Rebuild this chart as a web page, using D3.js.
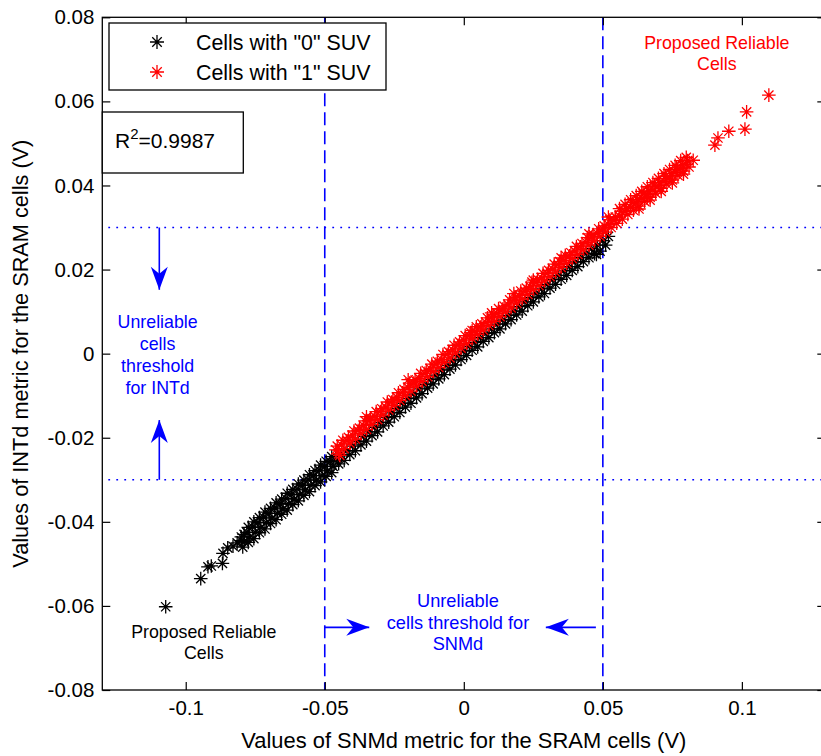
<!DOCTYPE html>
<html><head><meta charset="utf-8">
<script src="https://cdn.jsdelivr.net/npm/d3@7"></script>
<style>body{margin:0;background:#fff}svg{display:block}</style>
</head><body>
<svg id="chart" width="821" height="756"></svg>
<script>
// ---------------- data ----------------
const xTicks = [-0.1, -0.05, 0, 0.05, 0.1];
const xTickLabels = ["-0.1", "-0.05", "0", "0.05", "0.1"];
const yTicks = [-0.08, -0.06, -0.04, -0.02, 0, 0.02, 0.04, 0.06, 0.08];
const yTickLabels = ["-0.08", "-0.06", "-0.04", "-0.02", "0", "0.02", "0.04", "0.06", "0.08"];
const seriesNames = ['Cells with "0" SUV', 'Cells with "1" SUV'];
const snmThresholds = [-0.05, 0.05];
const intThresholds = [-0.03, 0.03];
const rSquared = "0.9987";

// cells with "0" SUV  [SNMd, INTd]
const zeroSUV = [
[-0.1072,-0.0602],
[-0.0946,-0.0535],[-0.0920,-0.0507],[-0.0908,-0.0505],[-0.0868,-0.0499],[-0.0866,-0.0475],[-0.0849,-0.0462],
[-0.0830,-0.0458],[-0.0815,-0.0450],[-0.0800,-0.0445],[-0.0790,-0.0430],
[-0.080,-0.0436],[-0.079,-0.0447],[-0.0795,-0.0460],
[-0.078,-0.0425],[-0.077,-0.0436],[-0.0775,-0.0449],[-0.0775,-0.0413],
[-0.076,-0.0412],[-0.075,-0.0425],[-0.0755,-0.0440],[-0.0755,-0.0400],
[-0.074,-0.0402],[-0.073,-0.0413],[-0.0735,-0.0426],[-0.0735,-0.0390],
[-0.072,-0.0389],[-0.071,-0.0402],[-0.0715,-0.0417],[-0.0715,-0.0377],
[-0.070,-0.0380],[-0.069,-0.0391],[-0.0695,-0.0404],[-0.0695,-0.0368],
[-0.068,-0.0367],[-0.067,-0.0380],[-0.0675,-0.0395],[-0.0675,-0.0355],
[-0.066,-0.0358],[-0.065,-0.0369],[-0.0655,-0.0382],[-0.0655,-0.0346],
[-0.064,-0.0344],[-0.063,-0.0357],[-0.0635,-0.0372],[-0.0635,-0.0332],
[-0.062,-0.0335],[-0.061,-0.0346],[-0.0615,-0.0359],[-0.0615,-0.0323],
[-0.060,-0.0322],[-0.059,-0.0335],[-0.0595,-0.0350],[-0.0595,-0.0310],
[-0.058,-0.0313],[-0.057,-0.0324],[-0.0575,-0.0337],[-0.0575,-0.0301],
[-0.056,-0.0300],[-0.055,-0.0313],[-0.0555,-0.0328],[-0.0555,-0.0288],
[-0.054,-0.0290],[-0.053,-0.0301],[-0.0535,-0.0314],[-0.0535,-0.0278],
[-0.052,-0.0277],[-0.051,-0.0290],[-0.0515,-0.0305],[-0.0515,-0.0265],
[-0.050,-0.0268],[-0.049,-0.0279],[-0.0495,-0.0292],[-0.0495,-0.0256],
[-0.048,-0.0257],[-0.047,-0.0268],[-0.0475,-0.0283],[-0.0475,-0.0245],
[-0.046,-0.0254],[-0.045,-0.0262],[-0.044,-0.0243],[-0.043,-0.0254],
[-0.042,-0.0231],[-0.041,-0.0240],[-0.040,-0.0220],[-0.039,-0.0231],
[-0.038,-0.0209],[-0.037,-0.0217],[-0.036,-0.0197],[-0.035,-0.0208],
[-0.034,-0.0186],[-0.033,-0.0195],[-0.032,-0.0175],[-0.031,-0.0186],
[-0.030,-0.0164],[-0.029,-0.0172],[-0.028,-0.0152],[-0.027,-0.0163],
[-0.026,-0.0141],[-0.025,-0.0150],[-0.024,-0.0130],[-0.023,-0.0140],
[-0.022,-0.0118],[-0.021,-0.0127],[-0.020,-0.0107],[-0.019,-0.0118],
[-0.018,-0.0096],[-0.017,-0.0105],[-0.016,-0.0084],[-0.015,-0.0095],
[-0.014,-0.0073],[-0.013,-0.0082],[-0.012,-0.0062],[-0.011,-0.0072],
[-0.010,-0.0051],[-0.009,-0.0060],[-0.008,-0.0039],[-0.007,-0.0050],
[-0.006,-0.0028],[-0.005,-0.0037],[-0.004,-0.0017],[-0.003,-0.0027],
[-0.002,-0.0005],[-0.001,-0.0014],[0.000,0.0006],[0.001,-0.0004],
[0.002,0.0017],[0.003,0.0008],[0.004,0.0027],[0.005,0.0016],
[0.006,0.0038],[0.007,0.0029],[0.008,0.0048],[0.009,0.0038],
[0.010,0.0059],[0.011,0.0050],[0.012,0.0070],[0.013,0.0059],
[0.014,0.0080],[0.015,0.0071],[0.016,0.0091],[0.017,0.0081],
[0.018,0.0101],[0.019,0.0092],[0.020,0.0112],[0.021,0.0101],
[0.022,0.0123],[0.023,0.0114],[0.024,0.0133],[0.025,0.0123],
[0.026,0.0144],[0.027,0.0135],[0.028,0.0154],[0.029,0.0143],
[0.030,0.0165],[0.031,0.0156],[0.032,0.0176],[0.033,0.0165],
[0.034,0.0186],[0.035,0.0177],[0.036,0.0197],[0.037,0.0186],
[0.038,0.0207],[0.039,0.0198],[0.040,0.0218],[0.041,0.0207],
[0.042,0.0229],[0.043,0.0219],[0.044,0.0239],[0.045,0.0228],
[0.046,0.0250],[0.047,0.0238],[0.048,0.0258],[0.049,0.0244],[0.0477,0.0236],
[0.050,0.0269],[0.051,0.0258],[0.052,0.0279]
];

// cells with "1" SUV  [SNMd, INTd]
const oneSUV = [
[-0.046,-0.0229],[-0.045,-0.0238],[-0.0446,-0.0242],[-0.0455,-0.0220],
[-0.044,-0.0217],[-0.043,-0.0226],[-0.0435,-0.0206],[-0.042,-0.0207],[-0.041,-0.0213],[-0.0415,-0.0199],
[-0.040,-0.0194],[-0.039,-0.0203],[-0.0395,-0.0184],[-0.038,-0.0183],[-0.037,-0.0190],[-0.0375,-0.0177],
[-0.036,-0.0171],[-0.035,-0.0180],[-0.0355,-0.0160],[-0.034,-0.0160],[-0.033,-0.0168],[-0.0335,-0.0153],
[-0.032,-0.0149],[-0.031,-0.0157],[-0.0315,-0.0138],[-0.030,-0.0138],[-0.029,-0.0146],[-0.0295,-0.0131],
[-0.028,-0.0127],[-0.027,-0.0134],[-0.0275,-0.0115],[-0.026,-0.0115],[-0.025,-0.0123],[-0.0255,-0.0109],
[-0.024,-0.0104],[-0.023,-0.0111],[-0.0235,-0.0093],[-0.022,-0.0093],[-0.021,-0.0100],[-0.0215,-0.0085],
[-0.020,-0.0081],[-0.019,-0.0089],[-0.0195,-0.0070],[-0.018,-0.0070],[-0.017,-0.0077],[-0.0175,-0.0063],
[-0.016,-0.0059],[-0.015,-0.0066],[-0.0155,-0.0047],[-0.014,-0.0047],[-0.013,-0.0055],[-0.0135,-0.0040],
[-0.012,-0.0036],[-0.011,-0.0043],[-0.0115,-0.0025],[-0.010,-0.0025],[-0.009,-0.0033],[-0.0095,-0.0018],
[-0.008,-0.0014],[-0.007,-0.0021],[-0.0075,-0.0002],[-0.006,-0.0002],[-0.005,-0.0010],[-0.0055,0.0005],
[-0.004,0.0009],[-0.003,0.0002],[-0.0035,0.0020],[-0.002,0.0020],[-0.001,0.0013],[-0.0015,0.0028],
[0.000,0.0032],[0.001,0.0024],[0.0005,0.0043],[0.002,0.0042],[0.003,0.0035],[0.0025,0.0050],
[0.004,0.0053],[0.005,0.0046],[0.0045,0.0064],[0.006,0.0063],[0.007,0.0056],[0.0065,0.0071],
[0.008,0.0074],[0.009,0.0067],[0.0085,0.0085],[0.010,0.0085],[0.011,0.0077],[0.0105,0.0092],
[0.012,0.0095],[0.013,0.0088],[0.0125,0.0107],[0.014,0.0106],[0.015,0.0099],[0.0145,0.0113],
[0.016,0.0116],[0.017,0.0109],[0.0165,0.0128],[0.018,0.0127],[0.019,0.0120],[0.0185,0.0134],
[0.020,0.0138],[0.021,0.0130],[0.0205,0.0149],[0.022,0.0148],[0.023,0.0141],[0.0225,0.0156],
[0.024,0.0159],[0.025,0.0152],[0.0245,0.0170],[0.026,0.0169],[0.027,0.0162],[0.0265,0.0177],
[0.028,0.0180],[0.029,0.0173],[0.0285,0.0191],[0.030,0.0191],[0.031,0.0183],[0.0305,0.0198],
[0.032,0.0201],[0.033,0.0194],[0.0325,0.0213],[0.034,0.0212],[0.035,0.0205],[0.0345,0.0219],
[0.036,0.0222],[0.037,0.0215],[0.0365,0.0234],[0.038,0.0233],[0.039,0.0226],[0.0385,0.0240],
[0.040,0.0244],[0.041,0.0236],[0.0405,0.0255],[0.042,0.0254],[0.043,0.0247],[0.0425,0.0262],
[0.044,0.0265],[0.045,0.0258],[0.0445,0.0276],[0.046,0.0275],[0.047,0.0268],[0.0465,0.0283],
[0.048,0.0286],[0.049,0.0279],[0.0485,0.0297],[0.050,0.0296],[0.051,0.0289],[0.0505,0.0304],
[0.052,0.0307],[0.053,0.0300],[0.0525,0.0318],[0.054,0.0317],[0.055,0.0310],[0.0545,0.0325],
[0.056,0.0327],[0.057,0.0320],[0.0565,0.0339],[0.058,0.0338],[0.059,0.0331],[0.0585,0.0345],
[0.060,0.0348],[0.061,0.0341],[0.0605,0.0360],[0.062,0.0358],[0.063,0.0351],[0.0625,0.0366],
[0.064,0.0369],[0.065,0.0362],[0.0645,0.0380],[0.066,0.0379],[0.067,0.0372],[0.0665,0.0387],
[0.068,0.0389],[0.069,0.0382],[0.0685,0.0401],[0.070,0.0400],[0.071,0.0393],[0.0705,0.0407],
[0.072,0.0410],[0.073,0.0403],[0.0725,0.0422],[0.074,0.0420],[0.075,0.0413],[0.0745,0.0428],
[0.076,0.0431],[0.077,0.0424],[0.0765,0.0442],[0.078,0.0441],[0.079,0.0434],[0.0785,0.0449],
[0.080,0.0450],[0.081,0.0444],[0.0805,0.0459],[0.0825,0.0460],
[0.056,0.0345],[0.058,0.0355],[0.060,0.0366],[0.062,0.0376],[0.064,0.0386],[0.066,0.0397],
[0.068,0.0407],[0.070,0.0417],[0.072,0.0428],[0.074,0.0438],[0.076,0.0448],[0.078,0.0459],[0.080,0.0467],
[0.063,0.0344],[0.067,0.0365],[0.071,0.0386],[0.075,0.0406],[0.079,0.0427],
[0.003,0.0055],[0.010,0.0097],[0.018,0.0143],[0.025,0.0175],[0.035,0.0228],[0.045,0.0285],[0.052,0.0325],
[-0.020,-0.0062],[-0.035,-0.0150],
[0.0903,0.0496],[0.0914,0.0513],[0.0953,0.0529],[0.1011,0.0534],[0.1017,0.0575],[0.1097,0.0615]
];

// ---------------- layout ----------------
const svg = d3.select("#chart");
const L = 102.3, R = 825.3, T = 17.3, B = 690;
const x = d3.scaleLinear().domain([-0.13, 0.13]).range([L, R]);
const y = d3.scaleLinear().domain([-0.08, 0.08]).range([B, T]);
const FONT = "'Liberation Sans', Arial, sans-serif";
const NARROW = "'Liberation Sans Narrow', 'Liberation Sans', Arial, sans-serif";
const BLUE = "#0000ff";

// threshold lines
svg.append("g").selectAll("line").data(snmThresholds).join("line")
  .attr("x1", d => x(d)).attr("x2", d => x(d)).attr("y1", T).attr("y2", B)
  .attr("stroke", BLUE).attr("stroke-width", 1.6).attr("stroke-dasharray", "13,6");
svg.append("g").selectAll("line").data(intThresholds).join("line")
  .attr("x1", L + 6).attr("x2", R).attr("y1", d => y(d)).attr("y2", d => y(d))
  .attr("stroke", BLUE).attr("stroke-width", 1.6).attr("stroke-dasharray", "1.8,6.2");

// scatter
function star(r) {
  const d = r * 0.68;
  return `M${-r},0H${r}M0,${-r}V${r}M${-d},${-d}L${d},${d}M${-d},${d}L${d},${-d}`;
}
const starPath = star(6.8);
svg.append("g").selectAll("path").data(zeroSUV).join("path")
  .attr("d", starPath).attr("transform", d => `translate(${x(d[0])},${y(d[1])})`)
  .attr("fill", "none").attr("stroke", "#000").attr("stroke-width", 1.3);
svg.append("g").selectAll("path").data(oneSUV).join("path")
  .attr("d", starPath).attr("transform", d => `translate(${x(d[0])},${y(d[1])})`)
  .attr("fill", "none").attr("stroke", "#ff0000").attr("stroke-width", 1.3);

// axes (ticks inward, MATLAB box)
const tk = 8;
const gB = svg.append("g").attr("transform", `translate(0,${B})`)
  .call(d3.axisBottom(x).tickValues(xTicks).tickFormat((d, i) => xTickLabels[i]).tickSize(-tk).tickPadding(10));
const gL = svg.append("g").attr("transform", `translate(${L},0)`)
  .call(d3.axisLeft(y).tickValues(yTicks).tickFormat((d, i) => yTickLabels[i]).tickSize(-tk).tickPadding(8));
const gT = svg.append("g").attr("transform", `translate(0,${T})`)
  .call(d3.axisTop(x).tickValues(xTicks).tickFormat("").tickSize(-tk));
const gR = svg.append("g").attr("transform", `translate(${R},0)`)
  .call(d3.axisRight(y).tickValues(yTicks).tickFormat("").tickSize(-tk));
[gB, gL, gT, gR].forEach(g => {
  g.select(".domain").remove();
  g.selectAll(".tick line").attr("stroke", "#000").attr("stroke-width", 1.2);
  g.selectAll("text").attr("font-family", NARROW).attr("font-size", 20.5).attr("fill", "#000");
});
svg.append("rect").attr("x", L).attr("y", T).attr("width", R - L).attr("height", B - T)
  .attr("fill", "none").attr("stroke", "#000").attr("stroke-width", 1.3);

// axis titles
svg.append("text").attr("x", x(0)).attr("y", 748).attr("text-anchor", "middle")
  .attr("font-family", NARROW).attr("font-size", 22)
  .attr("textLength", 445).attr("lengthAdjust", "spacingAndGlyphs")
  .text("Values of SNMd metric for the SRAM cells (V)");
svg.append("text").attr("transform", `translate(28,${y(0)}) rotate(-90)`).attr("text-anchor", "middle")
  .attr("font-family", NARROW).attr("font-size", 22)
  .attr("textLength", 428).attr("lengthAdjust", "spacingAndGlyphs")
  .text("Values of INTd metric for the SRAM cells (V)");

// arrows
function arrow(x1, y1, x2, y2) {
  const px1 = x(x1), py1 = y(y1), px2 = x(x2), py2 = y(y2);
  const ang = Math.atan2(py2 - py1, px2 - px1) * 180 / Math.PI;
  const g = svg.append("g");
  g.append("line").attr("x1", px1).attr("y1", py1).attr("x2", px2).attr("y2", py2)
    .attr("stroke", BLUE).attr("stroke-width", 1.6);
  g.append("path").attr("d", "M0,0L-23,-8.5L-16,0L-23,8.5Z")
    .attr("transform", `translate(${px2},${py2}) rotate(${ang})`).attr("fill", BLUE);
}
arrow(-0.1095, 0.03, -0.1095, 0.0152);
arrow(-0.1095, -0.03, -0.1095, -0.0158);
arrow(-0.05, -0.0651, -0.0340, -0.0651);
arrow(0.0475, -0.0651, 0.0295, -0.0651);

// annotation texts
function lines(cx, cy, arr, color, size, gap) {
  const t = svg.append("text").attr("text-anchor", "middle").attr("font-family", FONT)
    .attr("font-size", size).attr("fill", color);
  arr.forEach((s, i) => t.append("tspan").attr("x", x(cx)).attr("y", y(cy) + i * gap).text(s));
}
lines(-0.1101, 0.0062, ["Unreliable", "cells", "threshold", "for INTd"], BLUE, 17.8, 22);
lines(-0.0021, -0.0603, ["Unreliable", "cells threshold for", "SNMd"], BLUE, 18.2, 21.5);
lines(0.0910, 0.0725, ["Proposed Reliable", "Cells"], "#ff0000", 17.8, 21);
lines(-0.0935, -0.0677, ["Proposed Reliable", "Cells"], "#000", 17.8, 21);

// legend
const leg = svg.append("g");
leg.append("rect").attr("x", 109).attr("y", 23).attr("width", 277).attr("height", 67)
  .attr("fill", "#fff").attr("stroke", "#000").attr("stroke-width", 1.3);
[["#000", 42], ["#ff0000", 72]].forEach((c, i) => {
  leg.append("path").attr("d", star(7)).attr("transform", `translate(157,${c[1]})`)
    .attr("fill", "none").attr("stroke", c[0]).attr("stroke-width", 1.3);
  leg.append("text").attr("x", 196).attr("y", c[1] + 7.6).attr("font-family", FONT)
    .attr("font-size", 21.4).text(seriesNames[i]);
});

// R^2 box
svg.append("rect").attr("x", L).attr("y", 112).attr("width", 141).attr("height", 61)
  .attr("fill", "#fff").attr("stroke", "#000").attr("stroke-width", 1.3);
const rt = svg.append("text").attr("x", 115).attr("y", 148).attr("font-family", FONT).attr("font-size", 21);
rt.append("tspan").text("R");
rt.append("tspan").attr("dy", -9).attr("font-size", 15).text("2");
rt.append("tspan").attr("dy", 9).text("=" + rSquared);
</script>
</body></html>
